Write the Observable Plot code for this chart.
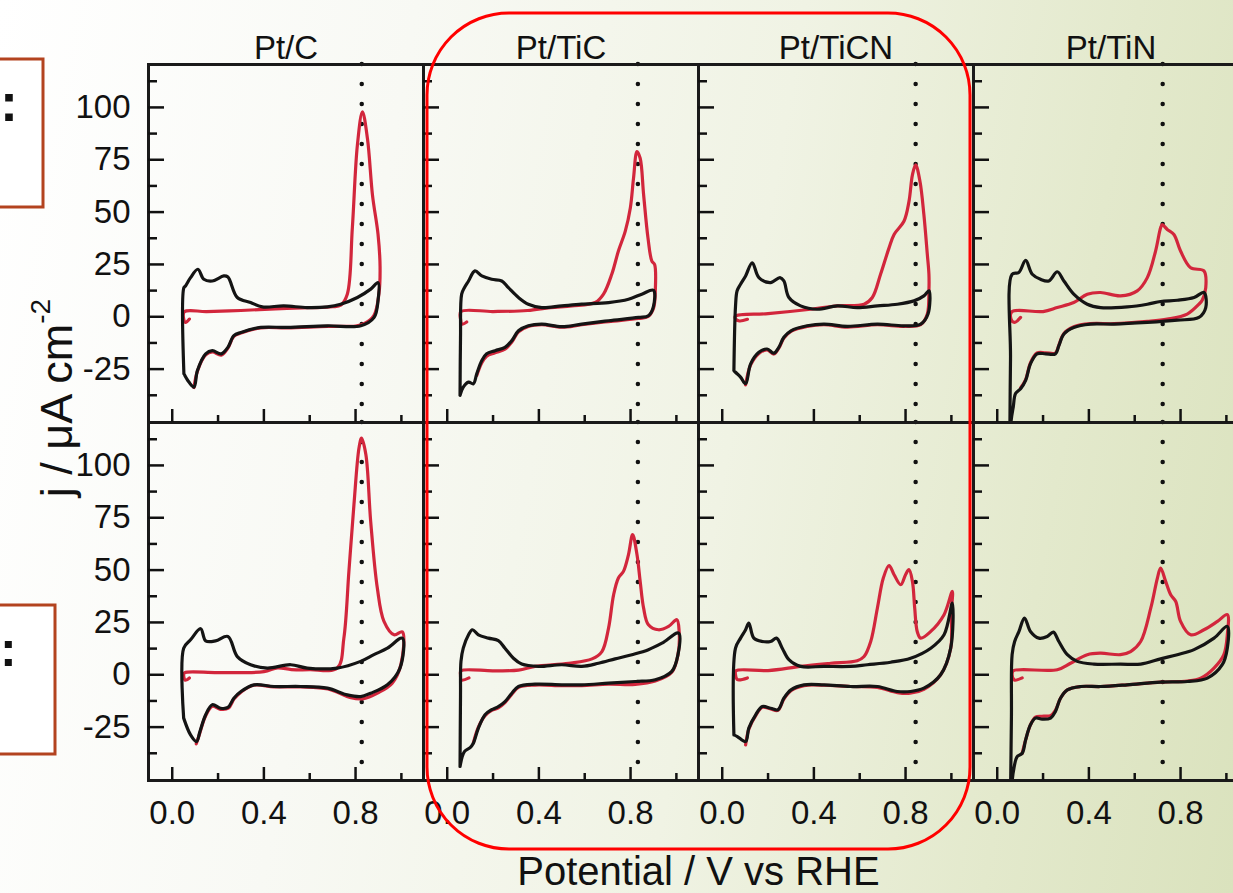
<!DOCTYPE html>
<html><head><meta charset="utf-8">
<script src="https://cdn.jsdelivr.net/npm/d3@7"></script>
<script src="https://cdn.jsdelivr.net/npm/@observablehq/plot@0.6"></script>
<style>
html,body{margin:0;padding:0;width:1233px;height:893px;overflow:hidden;}
body{background:linear-gradient(100deg,#ffffff 0%,#f8f9f4 30%,#f0f3e4 58%,#e3e9cc 82%,#dae2bd 100%);}
#wrap{position:relative;width:1233px;height:893px;overflow:hidden;}
#chart{position:absolute;left:0;top:0;width:1248px;height:893px;}
#chart svg{max-width:none !important;width:1248px !important;height:893px !important;}
#overlay{position:absolute;left:0;top:0;pointer-events:none;}
</style></head>
<body>
<div id="wrap">
<div id="chart"></div>
<svg id="overlay" width="1233" height="893" font-family="'Liberation Sans', Arial, sans-serif">
  <rect x="-20" y="59" width="63" height="148" fill="#ffffff" stroke="#b3431f" stroke-width="3"/>
  <text x="0" y="121" text-anchor="start" font-size="54" font-weight="bold" fill="#111">:</text>
  <rect x="-20" y="605" width="75" height="149" fill="#ffffff" stroke="#b3431f" stroke-width="3"/>
  <text x="0" y="666" text-anchor="start" font-size="50" font-weight="bold" fill="#111">:</text>
  <text transform="translate(72,398) rotate(-90)" text-anchor="middle" font-size="45" fill="#111">j / μA cm<tspan font-size="28" dy="-22">-2</tspan></text>
  <rect x="427" y="13" width="543" height="836" rx="82" ry="82" fill="none" stroke="#ff0000" stroke-width="3"/>
</svg>
</div>
<script>
// ---------- facets ----------
const samples = ["Pt/C", "Pt/TiC", "Pt/TiCN", "Pt/TiN"];
const rows = ["top", "bottom"];

// ---------- axis ticks ----------
const xMajor = [0, 0.4, 0.8];
const xMinor = [0.2, 0.6, 1.0];
const yMajor = [-25, 0, 25, 50, 75, 100];
const yMinor = [-37.5, -12.5, 12.5, 37.5, 62.5, 87.5, 112.5];

// dotted reference potential per sample (V)
const dotPotential = [0.827, 0.832, 0.844, 0.722];

// ---------- curves: [potential V, current density µA cm-2] ----------
// Pt/C
const ptC_top_black = [[0.051,-27.2],[0.051,13.9],[0.058,14.7],[0.08,18.7],[0.112,22.7],[0.138,17.9],[0.175,17.1],[0.225,19.5],[0.243,19],[0.284,9.2],[0.342,6.8],[0.393,4.75],[0.487,5.2],[0.589,4.4],[0.677,4.75],[0.735,6],[0.808,9.2],[0.866,13.2],[0.898,16.3],[0.898,7.6],[0.881,-0.3],[0.823,-4.3],[0.677,-4.3],[0.502,-5.1],[0.386,-5.1],[0.3,-7.5],[0.269,-9],[0.243,-14.6],[0.214,-17.7],[0.175,-16.2],[0.146,-17.7],[0.11,-25.7],[0.095,-33.6],[0.073,-31.2],[0.051,-27.2]];
const ptC_top_red = [[0.075,-1.1],[0.058,-2.7],[0.05,-1],[0.053,2.4],[0.15,2.5],[0.3,3],[0.45,3.8],[0.6,4.3],[0.7,4.8],[0.735,5.5],[0.764,10.8],[0.786,42.5],[0.808,82],[0.83,97.9],[0.852,85],[0.874,58],[0.898,39.5],[0.907,23.8],[0.902,11],[0.88,0.6],[0.837,-3.3],[0.8,-4.4],[0.677,-4.6],[0.502,-5.3],[0.386,-5.3],[0.3,-7.8],[0.269,-9.4],[0.243,-15],[0.214,-18.3],[0.175,-16.8],[0.146,-18.2],[0.11,-26],[0.095,-33.8]];
const ptC_bot_black = [[0.05,-20.7],[0.05,12.7],[0.08,16.7],[0.124,22],[0.146,16.2],[0.189,16.2],[0.243,18.3],[0.284,8.7],[0.342,4.8],[0.415,3.2],[0.517,4.8],[0.589,3.2],[0.72,3.2],[0.822,6.4],[0.88,9.6],[0.939,12.7],[1.004,17.5],[0.994,3.2],[0.939,-4.8],[0.866,-8.8],[0.822,-10.4],[0.764,-9.6],[0.677,-6.4],[0.56,-5.6],[0.444,-5.6],[0.357,-4.8],[0.3,-8],[0.269,-11.2],[0.243,-15.6],[0.211,-16],[0.175,-14.3],[0.146,-19.1],[0.121,-27.1],[0.106,-31.9],[0.08,-28.7],[0.05,-20.7]];
const ptC_bot_red = [[0.075,-1.5],[0.057,-2.6],[0.05,0],[0.055,1],[0.2,1],[0.4,1.5],[0.46,3.3],[0.52,2.5],[0.6,2.4],[0.72,3.2],[0.749,17.5],[0.771,49.4],[0.793,81.3],[0.815,108.3],[0.826,113],[0.845,105.2],[0.866,73.3],[0.895,41.4],[0.924,25.5],[0.968,19.1],[1.004,20.5],[0.998,5],[0.96,-4],[0.9,-8.5],[0.83,-11.5],[0.78,-11],[0.68,-6.8],[0.56,-5.8],[0.445,-5.8],[0.355,-5],[0.3,-8.3],[0.27,-11.5],[0.245,-16],[0.21,-16.5],[0.175,-15],[0.145,-19.8],[0.12,-28],[0.105,-33]];
// Pt/TiC
const ptTiC_top_black = [[0.056,-37.5],[0.058,-10],[0.063,10.8],[0.075,13.9],[0.093,17.1],[0.121,21.9],[0.151,19.5],[0.194,17.9],[0.238,17.1],[0.267,13.9],[0.311,9.2],[0.354,6],[0.413,4.4],[0.5,5.2],[0.587,6],[0.704,6.8],[0.791,8.4],[0.849,10.8],[0.9,12.7],[0.9,5],[0.878,0.5],[0.835,-0.3],[0.704,-1.9],[0.587,-3.5],[0.5,-4.75],[0.413,-3.5],[0.354,-4.3],[0.311,-6.7],[0.282,-11.4],[0.252,-14.6],[0.209,-16.2],[0.172,-17.7],[0.151,-20.9],[0.129,-27.2],[0.114,-32],[0.093,-31.2],[0.07,-33.6],[0.056,-37.5]];
const ptTiC_top_red = [[0.085,-2.5],[0.065,-3.5],[0.058,-1],[0.06,2.5],[0.2,2.5],[0.35,3],[0.45,4.4],[0.544,5.2],[0.646,6.8],[0.682,10.8],[0.718,20.3],[0.747,31.4],[0.777,40.9],[0.799,52],[0.813,66.2],[0.828,78.9],[0.842,75.7],[0.857,58.3],[0.876,37.7],[0.893,26.6],[0.905,25],[0.908,12.4],[0.9,4],[0.875,0],[0.835,-0.8],[0.704,-2.3],[0.587,-3.8],[0.5,-5],[0.413,-3.8],[0.354,-4.6],[0.311,-7.2],[0.282,-12],[0.252,-15.5],[0.209,-17.2],[0.172,-18.8],[0.151,-22],[0.129,-28]];
const ptTiC_bot_black = [[0.056,-43.8],[0.058,-10],[0.06,6.4],[0.07,12.7],[0.093,19.1],[0.11,21.5],[0.136,19.1],[0.18,17.5],[0.223,16.3],[0.252,12.7],[0.289,7.9],[0.325,5.1],[0.398,4],[0.5,4.8],[0.587,4],[0.66,5.5],[0.733,7.6],[0.806,9.6],[0.878,12],[0.937,15.1],[1.01,19.9],[1.007,9.6],[0.98,1.6],[0.908,-2.4],[0.82,-3.2],[0.704,-4],[0.587,-4.8],[0.5,-4.8],[0.383,-4.5],[0.311,-5.6],[0.282,-8.8],[0.252,-12.8],[0.223,-15.2],[0.194,-16.7],[0.165,-19.1],[0.136,-25.5],[0.114,-32.7],[0.1,-34.8],[0.075,-36.7],[0.056,-43.8]];
const ptTiC_bot_red = [[0.095,-1.5],[0.062,-2.5],[0.058,0],[0.06,1.9],[0.2,1.9],[0.311,2.2],[0.383,4],[0.53,5.5],[0.632,7.6],[0.675,11.1],[0.704,22.3],[0.726,38.2],[0.747,46.2],[0.769,49.4],[0.791,57.4],[0.809,66.9],[0.828,57.4],[0.842,44.6],[0.857,31.8],[0.878,23.9],[0.922,21.5],[0.966,23.1],[1.002,26.3],[1.012,20.7],[1.007,9.6],[0.98,1.2],[0.908,-3],[0.82,-4.6],[0.704,-4.5],[0.587,-5.2],[0.5,-5.2],[0.383,-4.9],[0.311,-6],[0.282,-9.3],[0.252,-13.3],[0.223,-15.8],[0.194,-17],[0.165,-19.5],[0.136,-25],[0.114,-32.5]];
// Pt/TiCN
const ptTiCN_top_black = [[0.051,-25.7],[0.058,5],[0.065,12.4],[0.08,15.5],[0.102,19.5],[0.131,25.8],[0.16,18.7],[0.211,16.3],[0.252,18.7],[0.269,17.1],[0.291,9.2],[0.342,5.2],[0.415,3.6],[0.502,5.2],[0.589,4.4],[0.677,5.2],[0.764,6],[0.837,7.6],[0.88,10],[0.902,12.4],[0.898,1.3],[0.866,-3.5],[0.793,-4.3],[0.677,-3.5],[0.546,-4.6],[0.444,-3.5],[0.371,-4.3],[0.3,-6.7],[0.269,-9.8],[0.247,-14.6],[0.225,-17.4],[0.196,-15.4],[0.16,-17],[0.124,-22.5],[0.102,-32],[0.08,-28.8],[0.058,-26.5],[0.051,-25.7]];
const ptTiCN_top_red = [[0.11,-1.2],[0.075,-2],[0.058,-1],[0.058,0.3],[0.2,1.5],[0.386,3.6],[0.502,5.2],[0.619,6],[0.655,9.2],[0.691,20.3],[0.728,32.9],[0.75,39.3],[0.793,45.6],[0.815,55.1],[0.83,67.8],[0.844,72.6],[0.863,64.6],[0.88,48.8],[0.895,29.8],[0.902,20.3],[0.902,12.4],[0.895,1.3],[0.866,-3.8],[0.793,-4.6],[0.677,-3.8],[0.546,-4.9],[0.444,-3.8],[0.371,-4.6],[0.3,-7],[0.269,-10.2],[0.247,-15],[0.225,-17.8],[0.196,-15.8],[0.16,-17.5],[0.124,-23],[0.102,-32.5]];
const ptTiCN_bot_black = [[0.051,-28.7],[0.058,12.7],[0.08,17.5],[0.102,21.5],[0.116,24.7],[0.138,17.5],[0.175,15.9],[0.211,15.9],[0.237,17.5],[0.262,12.7],[0.291,7.2],[0.342,4],[0.444,4],[0.56,4],[0.633,4.8],[0.735,6],[0.822,7.9],[0.91,12.7],[0.968,19.1],[1.004,34.2],[0.997,12.7],[0.953,0],[0.88,-6.4],[0.822,-8],[0.764,-8],[0.677,-5.6],[0.56,-5.6],[0.444,-4.8],[0.357,-4.8],[0.3,-7.2],[0.269,-11.2],[0.243,-16.7],[0.211,-16],[0.175,-15.2],[0.146,-19.1],[0.116,-25.5],[0.102,-31.9],[0.066,-29.5],[0.051,-28.7]];
const ptTiCN_bot_red = [[0.11,-1.5],[0.066,-2.3],[0.058,0],[0.06,1.9],[0.2,2],[0.342,4],[0.473,5.5],[0.589,6.7],[0.619,8.7],[0.648,15.9],[0.677,31.8],[0.703,46.2],[0.728,52.2],[0.75,47.8],[0.779,43],[0.8,47.8],[0.815,50.2],[0.83,44.6],[0.84,31.8],[0.851,20.7],[0.866,17.5],[0.91,20.7],[0.968,28.7],[1.004,39.8],[1.0,30],[0.997,12.7],[0.953,0],[0.88,-6.9],[0.82,-8.8],[0.764,-8.5],[0.677,-6],[0.56,-5.6],[0.444,-5],[0.357,-5.2],[0.3,-7.6],[0.269,-11.6],[0.243,-17],[0.211,-16.3],[0.175,-15.5],[0.146,-19.5],[0.116,-26],[0.102,-33.5]];
// Pt/TiN
const ptTiN_top_black = [[0.055,-58],[0.058,-20],[0.065,20.3],[0.094,21.1],[0.124,26.9],[0.153,20.3],[0.189,17.9],[0.225,17.1],[0.262,21.5],[0.291,17.1],[0.334,10.8],[0.393,6],[0.451,4.4],[0.568,4.75],[0.655,6],[0.713,7.3],[0.786,7.9],[0.859,9.2],[0.902,11.6],[0.91,4.4],[0.88,-0.3],[0.786,-1.6],[0.655,-2.7],[0.509,-3.5],[0.407,-3.5],[0.334,-5.1],[0.291,-8.2],[0.269,-13.8],[0.254,-17.7],[0.211,-17.7],[0.174,-17.7],[0.145,-22.5],[0.124,-30.4],[0.102,-34.4],[0.08,-36.7],[0.07,-43.1],[0.061,-49.4],[0.058,-58]];
const ptTiN_top_red = [[0.102,-0.3],[0.075,-2.7],[0.06,-1],[0.065,2.5],[0.2,2.5],[0.262,4.4],[0.334,6.8],[0.393,10.8],[0.451,11.6],[0.538,10],[0.611,12.4],[0.655,18.7],[0.691,31.4],[0.713,42.5],[0.72,44],[0.742,41.7],[0.771,39.3],[0.8,31.4],[0.844,23.4],[0.902,21.9],[0.91,13.9],[0.895,8],[0.88,6],[0.829,1.3],[0.742,-1.1],[0.655,-2.2],[0.509,-3.3],[0.407,-3.3],[0.334,-4.8],[0.291,-8],[0.269,-13.5],[0.254,-17.3],[0.211,-17.2],[0.174,-17.3],[0.145,-22],[0.124,-30],[0.102,-34]];
const ptTiN_bot_black = [[0.058,-58],[0.062,-20],[0.065,9.6],[0.076,15.9],[0.095,20.7],[0.119,27.1],[0.145,20.7],[0.182,17.5],[0.218,18.3],[0.245,20.4],[0.269,15.9],[0.306,9.6],[0.349,6.4],[0.422,5.1],[0.538,5.1],[0.626,5.1],[0.713,7.6],[0.786,9.6],[0.859,12],[0.946,17.5],[1.004,23.1],[1.004,12.7],[0.982,4.8],[0.917,-1.6],[0.83,-3.2],[0.713,-3.5],[0.567,-4.8],[0.451,-5.6],[0.364,-5.6],[0.306,-7.2],[0.276,-11.2],[0.254,-17.5],[0.233,-20.7],[0.196,-21.2],[0.167,-20.7],[0.145,-23.9],[0.124,-31.1],[0.109,-37.5],[0.087,-39.1],[0.073,-44.6],[0.065,-51],[0.062,-58]];
const ptTiN_bot_red = [[0.109,-1.5],[0.075,-2.5],[0.065,0],[0.07,1.9],[0.262,2.4],[0.32,5.5],[0.393,9.6],[0.451,10.3],[0.538,9.6],[0.582,11.1],[0.626,15.9],[0.67,31.8],[0.699,46.2],[0.713,51],[0.735,44.6],[0.757,38.2],[0.779,35],[0.8,25.5],[0.844,19.1],[0.902,21.5],[0.961,25.5],[1.004,28.7],[1.004,19],[0.989,9.6],[0.946,3.2],[0.888,-1.6],[0.83,-3],[0.713,-3.5],[0.567,-4.8],[0.451,-5.6],[0.364,-5.6],[0.306,-7.2],[0.276,-11.2],[0.254,-17],[0.233,-19.5],[0.196,-19.8],[0.167,-20.2],[0.145,-23.9],[0.124,-31.1],[0.109,-37.5]];

// ---------- assemble ----------
const curves = [
  ["Pt/C","top","red",ptC_top_red],["Pt/C","top","black",ptC_top_black],
  ["Pt/C","bottom","red",ptC_bot_red],["Pt/C","bottom","black",ptC_bot_black],
  ["Pt/TiC","top","red",ptTiC_top_red],["Pt/TiC","top","black",ptTiC_top_black],
  ["Pt/TiC","bottom","red",ptTiC_bot_red],["Pt/TiC","bottom","black",ptTiC_bot_black],
  ["Pt/TiCN","top","red",ptTiCN_top_red],["Pt/TiCN","top","black",ptTiCN_top_black],
  ["Pt/TiCN","bottom","red",ptTiCN_bot_red],["Pt/TiCN","bottom","black",ptTiCN_bot_black],
  ["Pt/TiN","top","red",ptTiN_top_red],["Pt/TiN","top","black",ptTiN_top_black],
  ["Pt/TiN","bottom","red",ptTiN_bot_red],["Pt/TiN","bottom","black",ptTiN_bot_black]
];
const pts = curves.flatMap(([s, r, series, arr]) =>
  arr.map(([V, j], i) => ({sample: s, row: r, series, key: s + "|" + r + "|" + series, V, j, i})));
const redPts = pts.filter(d => d.series === "red");
const blackPts = pts.filter(d => d.series === "black");
const dots = samples.flatMap((s, k) => rows.map(r => ({sample: s, row: r, V: dotPotential[k]})));

const FONT = "'Liberation Sans', Arial, Helvetica, sans-serif";
const tickStroke = {stroke: "#111", strokeWidth: 2.5, fill: "none", label: null, facetAnchor: null};

const chart = Plot.plot({
  width: 1248,
  height: 893,
  marginLeft: 148,
  marginRight: 0,
  marginTop: 63,
  marginBottom: 113,
  style: {background: "transparent", fontFamily: FONT, color: "#111", overflow: "visible", maxWidth: "none"},
  fx: {domain: samples, padding: 0, label: null},
  fy: {domain: rows, padding: 0, axis: null, label: null},
  x: {domain: [-0.1035, 1.0965]},
  y: {domain: [-50.5, 120.5]},
  marks: [
    Plot.ruleX(dots, {x: "V", fx: "sample", fy: "row", stroke: "#111", strokeWidth: 4.5,
      strokeDasharray: "0 20", strokeLinecap: "round"}),
    Plot.line(redPts, {x: "V", y: "j", z: "key", fx: "sample", fy: "row", stroke: "#d2263c",
      strokeWidth: 3.2, curve: "catmull-rom", strokeLinejoin: "round", clip: true}),
    Plot.line(blackPts, {x: "V", y: "j", z: "key", fx: "sample", fy: "row", stroke: "#141414",
      strokeWidth: 3.2, curve: "catmull-rom", strokeLinejoin: "round", clip: true}),
    Plot.frame({stroke: "#1a1a1a", strokeWidth: 3}),
    Plot.axisX(xMajor, {...tickStroke, tickSize: -13}),
    Plot.axisX(xMinor, {...tickStroke, tickSize: -7}),
    Plot.axisY(yMajor, {...tickStroke, tickSize: -16}),
    Plot.axisY(yMinor, {...tickStroke, tickSize: -9}),
    Plot.axisY(yMajor, {tickSize: 0, tickPadding: 18, fontSize: 33, label: null, fill: "#111",
      tickFormat: d => String(d)}),
    Plot.axisX(xMajor, {tickSize: 0, tickPadding: 20, fontSize: 33, label: null, fill: "#111",
      tickFormat: d3.format(".1f")}),
    Plot.axisFx({tickSize: 0, tickPadding: 6, fontSize: 33, label: null, fill: "#111"}),
    Plot.axisX([], {tickSize: 0, fontSize: 40, fill: "#111", label: "Potential / V vs RHE",
      labelAnchor: "center", labelArrow: "none", labelOffset: 104})
  ]
});
document.getElementById("chart").appendChild(chart);
</script>
</body></html>
